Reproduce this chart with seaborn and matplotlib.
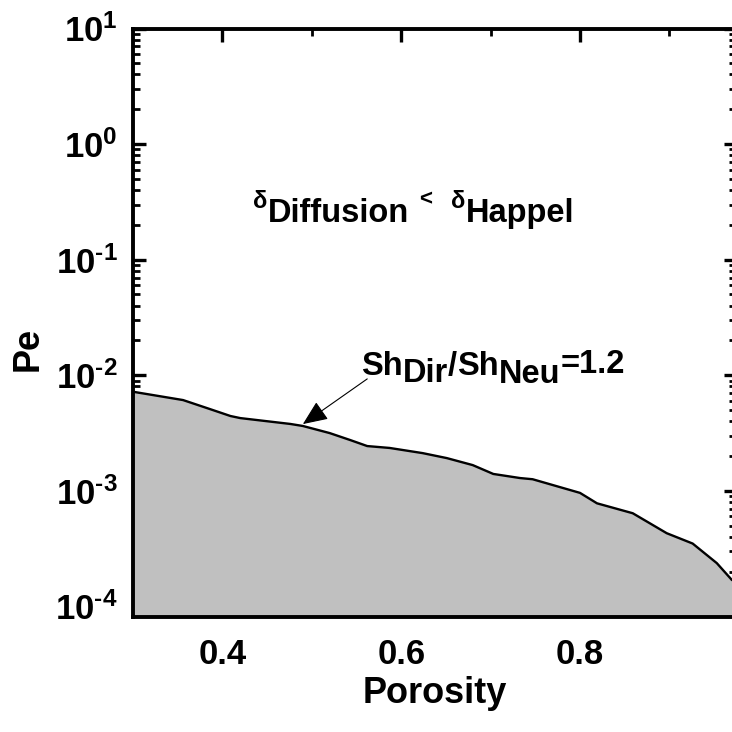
import numpy as np
import pandas as pd
import matplotlib
matplotlib.use("Agg")
import matplotlib.pyplot as plt
import seaborn as sns

# ---- data ----
porosity = [0.300, 0.356, 0.386, 0.409, 0.420, 0.476, 0.490, 0.520, 0.543, 0.562,
            0.587, 0.624, 0.651, 0.680, 0.703, 0.733, 0.747, 0.800, 0.819, 0.859,
            0.897, 0.926, 0.953, 0.970]
pe = [7.2e-3, 6.1e-3, 5.1e-3, 4.44e-3, 4.26e-3, 3.79e-3, 3.64e-3, 3.16e-3, 2.75e-3, 2.44e-3,
      2.35e-3, 2.12e-3, 1.92e-3, 1.67e-3, 1.40e-3, 1.29e-3, 1.26e-3, 9.6e-4, 7.8e-4, 6.4e-4,
      4.3e-4, 3.5e-4, 2.37e-4, 1.69e-4]
x_major = [0.4, 0.6, 0.8]
x_minor = [0.5, 0.7, 0.9]
x_labels = ["0.4", "0.6", "0.8"]
y_major = [1e-4, 1e-3, 1e-2, 1e-1, 1e0, 1e1]
y_labels = ["$\\mathbf{10^{\u2010" + "4}}$", "$\\mathbf{10^{\u2010" + "3}}$",
            "$\\mathbf{10^{\u2010" + "2}}$", "$\\mathbf{10^{\u2010" + "1}}$",
            r"$\mathbf{10^{0}}$", r"$\mathbf{10^{1}}$"]
x_range = (0.3, 0.9745)
y_range = (8.1e-5, 10)
arrow_tip = (0.490, 3.78e-3)
arrow_tail = (0.562, 9.3e-3)

df = pd.DataFrame({"Porosity": porosity, "Pe": pe})

sns.set_theme(style="ticks")
plt.rcParams["font.family"] = ["Liberation Sans", "DejaVu Sans"]
plt.rcParams["font.weight"] = "bold"
plt.rcParams["mathtext.fontset"] = "custom"
plt.rcParams["mathtext.bf"] = "Liberation Sans:bold"
plt.rcParams["mathtext.rm"] = "Liberation Sans:bold"
plt.rcParams["mathtext.default"] = "bf"
for k in ["text.color", "axes.labelcolor", "xtick.color", "ytick.color",
          "xtick.labelcolor", "ytick.labelcolor"]:
    plt.rcParams[k] = "black"

W = 732
fig = plt.figure(figsize=(7.32, 7.32), dpi=100)
ax = fig.add_axes([133 / W, (W - 617) / W, (736 - 133) / W, (617 - 28.5) / W])

ax.fill_between(df["Porosity"], df["Pe"], y_range[0] * 0.5, color="#c0c0c0", lw=0, zorder=1)
sns.lineplot(data=df, x="Porosity", y="Pe", ax=ax, color="black", lw=1.7, zorder=2)

ax.set_yscale("log")
ax.set_xlim(*x_range)
ax.set_ylim(*y_range)

ax.set_xticks(x_major)
ax.set_xticklabels(x_labels)
ax.set_xticks(x_minor, minor=True)
ax.set_yticks(y_major)
ax.set_yticklabels(y_labels)
ax.yaxis.set_minor_locator(matplotlib.ticker.LogLocator(base=10, subs=np.arange(2, 10)))
ax.yaxis.set_minor_formatter(matplotlib.ticker.NullFormatter())

for s in ax.spines.values():
    s.set_linewidth(2.8)
    s.set_color("black")
    s.set_zorder(5)
ax.tick_params(which="both", direction="in", top=True, right=True, color="black")
ax.tick_params(which="major", length=9, width=2.4)
ax.tick_params(which="minor", length=5, width=2.0)
ax.tick_params(axis="x", which="major", labelsize=25, pad=15)
ax.tick_params(axis="y", which="major", labelsize=25, pad=11)
for lab in ax.get_xticklabels() + ax.get_yticklabels():
    lab.set_fontweight("bold")
    lab.set_color("black")

ax.set_xlabel("Porosity", fontsize=26, fontweight="bold", color="black")
ax.set_ylabel("Pe", fontsize=26, fontweight="bold", color="black")
ax.xaxis.set_label_coords(0.5, -0.1)
ax.yaxis.set_label_coords(-0.145, 0.455)

ax.annotate("", xy=arrow_tip, xytext=arrow_tail,
            arrowprops=dict(arrowstyle="-|>,head_length=0.7,head_width=0.3", lw=0.8,
                            color="black", mutation_scale=22, shrinkA=0, shrinkB=0),
            zorder=6)

# ---- annotation texts built from pieces ----
fig.canvas.draw()
renderer = fig.canvas.get_renderer()


def chain(x0, base, pieces):
    x = x0
    for text, size, dy, gap in pieces:
        x += gap
        t = fig.text(x / W, 1 - (base + dy) / W, text, fontsize=size, fontweight="bold",
                     ha="left", va="baseline", color="black")
        bb = t.get_window_extent(renderer)
        x = bb.x1


chain(253, 222, [("δ", 17, -14, 0), ("Diffusion", 23.5, 0, 1),
                 ("<", 16, -17, 10), ("δ", 17, -14, 18), ("Happel", 23.5, 0, 1)])
chain(361, 375, [("Sh", 23.5, 0, 0), ("Dir", 23.5, 7, 0), ("/", 23.5, 0, 0),
                 ("Sh", 23.5, 0, 0), ("Neu", 23.5, 8, 0), ("=1.2", 23.5, -2, 0)])

fig.savefig("out.png", dpi=100)
